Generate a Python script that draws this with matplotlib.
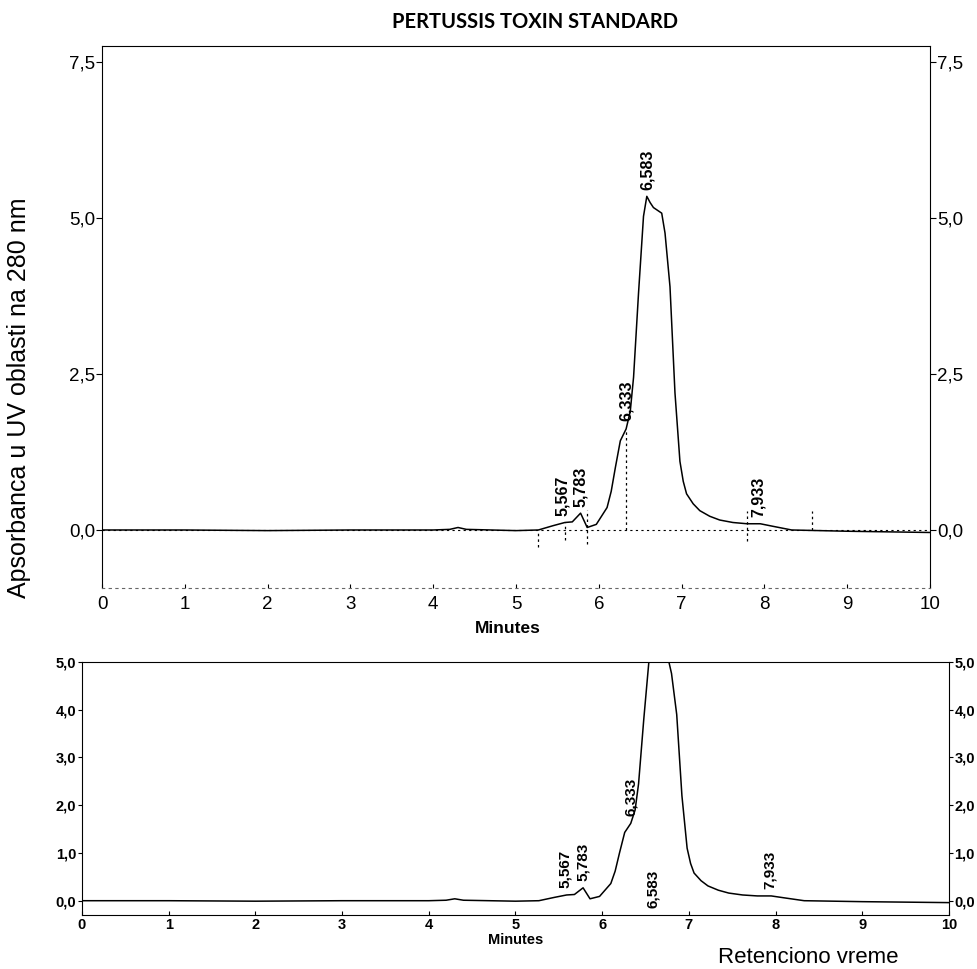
import numpy as np
import matplotlib
matplotlib.use("Agg")
import matplotlib.pyplot as plt

plt.rcParams['font.family'] = ['Liberation Sans', 'DejaVu Sans']

# chromatogram (minutes, absorbance)
vreme = [0.0, 1.0, 2.0, 3.0, 4.0, 4.2, 4.3, 4.4, 5.0, 5.27, 5.45, 5.59, 5.68,
         5.78, 5.86, 5.97, 6.10, 6.15, 6.20, 6.26, 6.33, 6.38, 6.42, 6.48,
         6.54, 6.58, 6.62, 6.66, 6.76, 6.80, 6.86, 6.92, 6.98, 7.02, 7.06,
         7.14, 7.22, 7.34, 7.46, 7.62, 7.79, 7.95, 8.10, 8.33, 9.0, 10.0]
apsorbanca = [0.0, 0.0, -0.01, 0.0, 0.0, 0.01, 0.04, 0.01, -0.01, 0.0, 0.07,
              0.12, 0.13, 0.27, 0.04, 0.09, 0.36, 0.62, 1.0, 1.43, 1.62, 1.9,
              2.45, 3.8, 5.03, 5.35, 5.25, 5.17, 5.08, 4.76, 3.9, 2.2, 1.1,
              0.78, 0.58, 0.42, 0.31, 0.22, 0.16, 0.12, 0.10, 0.10, 0.06, 0.0,
              -0.02, -0.04]

pikovi = [5.567, 5.783, 6.333, 6.583, 7.933]
pikovi_txt = ['5,567', '5,783', '6,333', '6,583', '7,933']

# dotted integration marks (top panel)
granice_x = [5.27, 5.59, 5.86, 6.33, 7.79, 8.58]
granice_gore = [0.0, 0.12, 0.32, 1.62, 0.30, 0.30]
granice_dole = [-0.28, -0.16, -0.22, 0.0, -0.17, 0.0]

x_ticks = list(range(11))
gore_yticks = [0.0, 2.5, 5.0, 7.5]
gore_ylabels = ['0,0', '2,5', '5,0', '7,5']
dole_yticks = [0, 1, 2, 3, 4, 5]
dole_ylabels = ['0,0', '1,0', '2,0', '3,0', '4,0', '5,0']

fig = plt.figure(figsize=(9.78, 9.69), dpi=100)

# ---- gornji grafik
ax1 = fig.add_axes([0.1043, 0.3932, 0.8466, 0.5593])
ax1.plot(vreme, apsorbanca, color='black', lw=1.1)
ax1.axhline(0, color='black', lw=0.8, ls=(0, (2, 3)))
ax1.vlines(granice_x, granice_dole, granice_gore, colors='black', lw=0.9, ls=(0, (2, 2.5)))
ax1.set_xlim(0, 10)
ax1.set_ylim(-0.93, 7.76)
ax1.set_xticks(x_ticks)
ax1.set_xticklabels([str(v) for v in x_ticks], fontsize=13.5)
ax1.set_yticks(gore_yticks)
ax1.set_yticklabels(gore_ylabels, fontsize=13.5)
ax1.tick_params(axis='y', which='both', left=True, right=True, labelleft=True,
                labelright=True, length=4, width=0.8, pad=1)
ax1.tick_params(axis='x', length=3, width=0.8, pad=6, direction='in')
ax1.spines['bottom'].set_linestyle((0, (2, 4)))
ax1.spines['bottom'].set_color('0.4')
ax1.spines['bottom'].set_linewidth(0.8)
ax1.set_xlabel('Minutes', fontsize=12.5, fontweight='bold')
ax1.xaxis.set_label_coords(0.49, -0.06)

for p, txt in zip(pikovi, pikovi_txt):
    h = np.interp(p, vreme, apsorbanca)
    ax1.annotate(txt, (p, h), xytext=(0, 5), textcoords='offset points',
                 rotation=90, ha='center', va='bottom', fontsize=11.5,
                 fontweight='bold')

# ---- donji grafik
ax2 = fig.add_axes([0.0838, 0.0557, 0.8865, 0.2611])
ax2.plot(vreme, apsorbanca, color='black', lw=1.1)
ax2.set_xlim(0, 10)
ax2.set_ylim(-0.3, 5.0)
ax2.set_xticks(x_ticks)
ax2.set_xticklabels([str(v) for v in x_ticks], fontsize=10.5, fontweight='bold')
ax2.set_yticks(dole_yticks)
ax2.set_yticklabels(dole_ylabels, fontsize=10.5, fontweight='bold')
ax2.tick_params(axis='y', left=True, right=True, labelleft=True, labelright=True,
                length=3, width=0.8, pad=1)
ax2.tick_params(axis='x', length=3, width=0.8, pad=2, direction='in')
ax2.set_xlabel('Minutes', fontsize=10.5, fontweight='bold', labelpad=1)

for p, txt in zip(pikovi, pikovi_txt):
    if txt == '6,583':
        ax2.text(p, -0.15, txt, rotation=90, ha='center', va='bottom',
                 fontsize=11, fontweight='bold')
        continue
    h = np.interp(p, vreme, apsorbanca)
    ax2.annotate(txt, (p, h), xytext=(0, 5), textcoords='offset points',
                 rotation=90, ha='center', va='bottom', fontsize=11,
                 fontweight='bold')

fig.text(0.547, 0.977, 'PERTUSSIS TOXIN STANDARD', ha='center', va='center',
         fontsize=14.5, fontweight='bold', family='Lato')
fig.text(0.019, 0.59, 'Apsorbanca u UV oblasti na 280 nm', rotation=90,
         ha='center', va='center', fontsize=18)
fig.text(0.826, 0.0114, 'Retenciono vreme', ha='center', va='center', fontsize=16)

fig.savefig('out.png', dpi=100)
